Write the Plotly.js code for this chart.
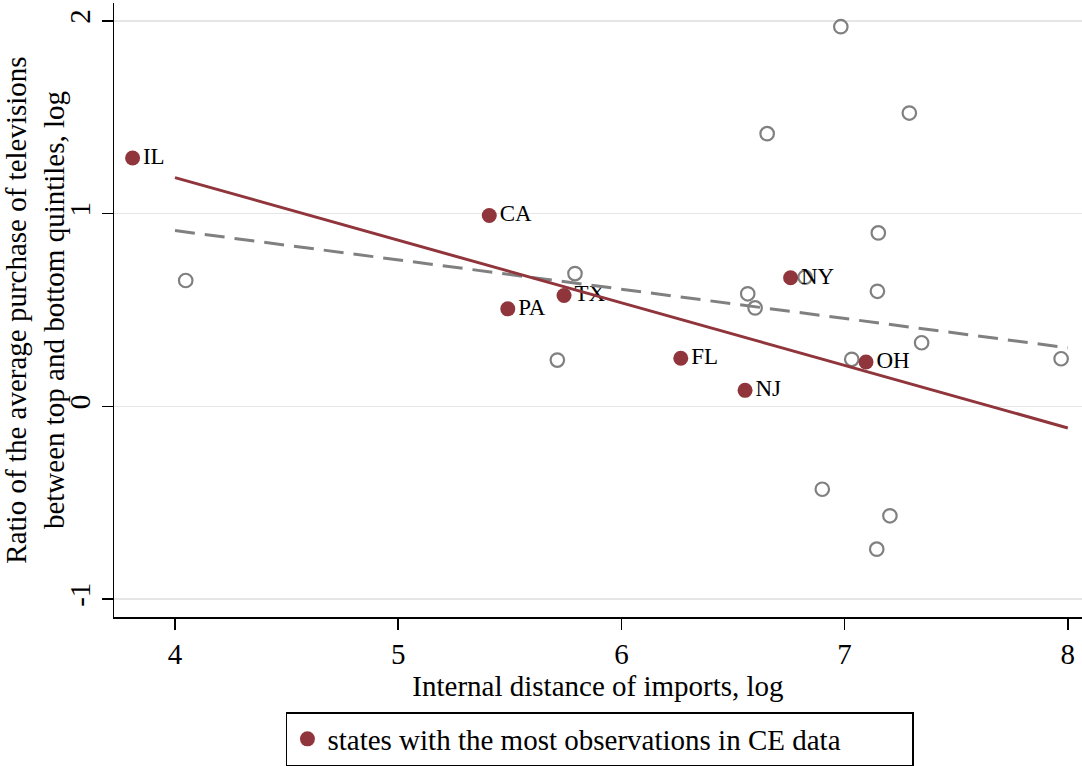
<!DOCTYPE html>
<html>
<head>
<meta charset="utf-8">
<script src="https://cdn.plot.ly/plotly-3.0.1.min.js"></script>
<style>html,body{margin:0;padding:0;background:#fff;}#chart{width:1082px;height:766px;}</style>
</head>
<body>
<div id="chart"></div>
<script>
// Highlighted states (filled markers)
const mainStates = ['IL', 'CA', 'PA', 'TX', 'FL', 'NJ', 'NY', 'OH'];
const mainX = [3.810, 5.408, 5.491, 5.743, 6.266, 6.554, 6.758, 7.096];
const mainY = [1.289, 0.990, 0.506, 0.575, 0.250, 0.083, 0.667, 0.230];

// Other states (hollow markers)
const otherX = [4.048, 5.713, 5.792, 6.566, 6.599, 6.653, 6.823, 6.900, 6.983, 7.032, 7.144, 7.147, 7.151, 7.203, 7.290, 7.345, 7.970];
const otherY = [0.653, 0.240, 0.689, 0.584, 0.511, 1.415, 0.670, -0.430, 1.970, 0.244, -0.741, 0.597, 0.900, -0.568, 1.522, 0.330, 0.247];

// Fitted lines (endpoints)
const fitMainX = [4, 8];
const fitMainY = [1.187, -0.112];
const fitAllX = [4, 8];
const fitAllY = [0.912, 0.304];

const xTicks = [4, 5, 6, 7, 8];
const yTicks = [-1, 0, 1, 2];

const legendLabel = 'states with the most observations in CE data';
const xTitle = 'Internal distance of imports, log';
const yTitle = 'Ratio of the average purchase of televisions<br>between top and bottom quintiles, log';

const RED = '#90353B';
const GRAY = '#808080';
const FONT = 'Liberation Serif, Times New Roman, serif';

const traces = [
  {
    x: otherX, y: otherY, type: 'scatter', mode: 'markers',
    marker: {symbol: 'circle-open', size: 13.5, color: GRAY, line: {width: 2.2, color: GRAY}},
    showlegend: false, hoverinfo: 'x+y'
  },
  {
    x: mainX, y: mainY, type: 'scatter', mode: 'markers+text',
    text: mainStates, textposition: 'middle right',
    textfont: {family: FONT, size: 23, color: '#000'},
    marker: {symbol: 'circle', size: 15, color: RED},
    name: legendLabel, showlegend: true
  },
  {
    x: fitAllX, y: fitAllY, type: 'scatter', mode: 'lines',
    line: {color: GRAY, width: 3, dash: '20px,10px'},
    showlegend: false, hoverinfo: 'skip'
  },
  {
    x: fitMainX, y: fitMainY, type: 'scatter', mode: 'lines',
    line: {color: RED, width: 3},
    showlegend: false, hoverinfo: 'skip'
  }
];

const layout = {
  width: 1082, height: 766,
  margin: {l: 114, r: 0, t: 3, b: 148, pad: 0},
  paper_bgcolor: '#fff', plot_bgcolor: '#fff',
  font: {family: FONT, size: 29, color: '#000'},
  xaxis: {
    range: [3.7267, 8.0636], tickvals: xTicks, ticktext: xTicks.map(String),
    ticks: 'outside', ticklen: 11, tickwidth: 1.5, tickcolor: '#000',
    showline: true, linewidth: 1.5, linecolor: '#000', mirror: false,
    showgrid: false, zeroline: false,
    tickfont: {family: FONT, size: 29, color: '#000'},
    title: {text: xTitle, font: {family: FONT, size: 29, color: '#000'}, standoff: 1}
  },
  yaxis: {
    range: [-1.093, 2.093], tickvals: yTicks, ticktext: yTicks.map(String),
    tickangle: -90,
    ticks: 'outside', ticklen: 11, tickwidth: 1.5, tickcolor: '#000',
    showline: true, linewidth: 1.5, linecolor: '#000',
    showgrid: true, gridcolor: '#e6e6e6', gridwidth: 1.5, zeroline: false,
    tickfont: {family: FONT, size: 29, color: '#000'},
    title: {text: yTitle, font: {family: FONT, size: 29, color: '#000'}, standoff: 4}
  },
  showlegend: true,
  legend: {
    orientation: 'h', x: 0.502, xanchor: 'center', y: -0.1545, yanchor: 'top',
    bordercolor: '#000', borderwidth: 1.5, bgcolor: '#fff',
    font: {family: FONT, size: 29, color: '#000'},
    entrywidth: 580, entrywidthmode: 'pixels'
  }
};

Plotly.newPlot('chart', traces, layout, {displayModeBar: false, staticPlot: true});
</script>
</body>
</html>
